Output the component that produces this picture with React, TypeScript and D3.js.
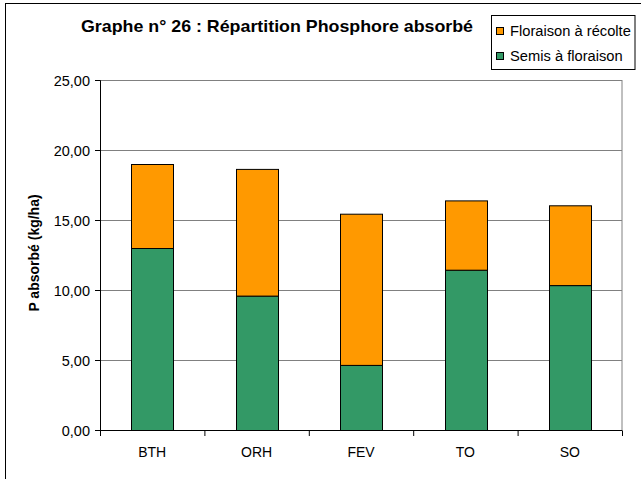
import React from "react";
import * as d3 from "d3";

const categories = ["BTH", "ORH", "FEV", "TO", "SO"];
const semisAFloraison = [13.0, 9.6, 4.65, 11.45, 10.35];
const floraisonARecolte = [6.0, 9.05, 10.8, 4.95, 5.7];
const yTicks = [0, 5, 10, 15, 20, 25];
const seriesNames = ["Semis à floraison", "Floraison à récolte"];
const seriesColors = ["#339966", "#FF9900"];

const W = 641;
const H = 479;
const FONT = "'Liberation Sans', Arial, sans-serif";

export default function App() {
  const x = d3.scaleBand<string>().domain(categories).range([100, 622]).paddingInner(0.6).paddingOuter(0.3);
  const y = d3.scaleLinear().domain([0, 25]).range([430.5, 80.5]);
  const rows = categories.map((c, i) => ({ cat: c, semis: semisAFloraison[i], flor: floraisonARecolte[i] }));
  const stacked = d3.stack<any>().keys(["semis", "flor"])(rows);
  const fmt = (v: number) => v.toFixed(2).replace(".", ",");
  const step = x.step();
  const x0 = 100;

  return (
    <svg width={W} height={H} style={{ position: "absolute", left: 0, top: 0, background: "#fff" }} fontFamily={FONT}>
      <rect x={5.5} y={3.5} width={W + 10} height={H + 10} fill="#fff" stroke="#000" strokeWidth={1} />
      <text x={277} y={32} textAnchor="middle" fontSize={17} fontWeight="bold" fill="#000" textLength={392} lengthAdjust="spacingAndGlyphs">
        Graphe n° 26 : Répartition Phosphore absorbé
      </text>
      {/* plot border */}
      <rect x={100.5} y={80.5} width={521.5} height={350} fill="none" stroke="#808080" strokeWidth={1} />
      {/* gridlines */}
      {yTicks.map((t) => (
        <line key={"g" + t} x1={100} x2={622} y1={y(t)} y2={y(t)} stroke="#808080" strokeWidth={1} />
      ))}
      {/* y axis */}
      <line x1={100.5} x2={100.5} y1={80.5} y2={430.5} stroke="#000" />
      {yTicks.map((t) => (
        <g key={"t" + t}>
          <line x1={95} x2={100.5} y1={y(t)} y2={y(t)} stroke="#000" />
          <text x={90} y={y(t) + 5} textAnchor="end" fontSize={14.5} fill="#000">
            {fmt(t)}
          </text>
        </g>
      ))}
      <text transform={`translate(39,253) rotate(-90)`} textAnchor="middle" fontSize={14} fontWeight="bold" fill="#000">
        P absorbé (kg/ha)
      </text>
      {/* bars */}
      {stacked.map((s, si) =>
        s.map((d, i) => (
          <rect
            key={si + "-" + i}
            x={Math.round(x(categories[i])!) + 0.5}
            y={y(d[1])}
            width={Math.round(x.bandwidth())}
            height={y(d[0]) - y(d[1])}
            fill={seriesColors[si]}
            stroke="#000"
            strokeWidth={1}
          />
        ))
      )}
      {/* x axis */}
      <line x1={100} x2={622} y1={430.5} y2={430.5} stroke="#000" />
      {d3.range(categories.length + 1).map((i) => (
        <line key={"xt" + i} x1={x0 + i * step + 0.5} x2={x0 + i * step + 0.5} y1={430.5} y2={436} stroke="#000" />
      ))}
      {categories.map((c) => (
        <text key={c} x={x(c)! + x.bandwidth() / 2} y={457} textAnchor="middle" fontSize={14} fill="#000">
          {c}
        </text>
      ))}
      {/* legend */}
      <rect x={491.5} y={15.5} width={143.5} height={54} fill="#fff" stroke="#000" />
      {[1, 0].map((si, k) => (
        <g key={"l" + si}>
          <rect x={496.5} y={27.5 + k * 25} width={7} height={7} fill={seriesColors[si]} stroke="#000" />
          <text x={510} y={36 + k * 25} fontSize={14.7} fill="#000">
            {seriesNames[si]}
          </text>
        </g>
      ))}
    </svg>
  );
}
